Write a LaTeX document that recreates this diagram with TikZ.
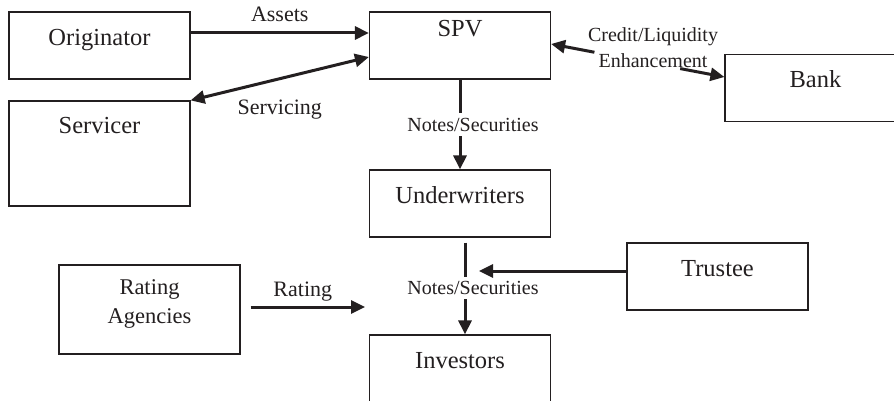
\documentclass[tikz,border=0pt]{standalone}
\usepackage{fontspec}
\setmainfont{Liberation Serif}
\usepackage{xcolor}
\usetikzlibrary{arrows.meta,positioning,calc}
\definecolor{ink}{HTML}{231F20}

\begin{document}
\begin{tikzpicture}[x=1pt, y=-1pt,
    party/.style={draw=ink, line width=1.2pt, minimum width=181pt, minimum height=67pt, inner sep=3pt, text=ink, font=\fontsize{24.5}{29}\selectfont, text height=17pt, text depth=#1},
    party/.default=17pt,
    flow/.style={draw=ink, line width=3pt, >={Triangle[length=14pt,width=13pt]}},
    tag/.style={text=ink, font=\fontsize{22}{26}\selectfont, inner sep=0pt},
    small/.style={text=ink, font=\fontsize{20}{25.5}\selectfont, inner sep=0pt}
]
    \useasboundingbox (0,0) rectangle (894,401);
    \clip (0,0) rectangle (894,401);

    \node[party] (orig) at (99.5,45.5) {Originator};
    \node[party=56pt, minimum height=105pt] (serv) at (99.5,153.5) {Servicer};
    \node[party=34pt] (spv) at (460,45.5) {SPV};
    \node[party] (bank) at (815.5,88) {Bank};
    \node[party] (uw) at (460,203.5) {Underwriters};
    \node[party, text height={}, text depth=15pt, minimum height=89pt, align=center, font=\fontsize{22.5}{29}\selectfont] (rate) at (149.5,309.5) {Rating\\Agencies};
    \node[party] (trus) at (717.5,276.5) {Trustee};
    \node[party] (inv) at (460,368.5) {Investors};

    % free ends of the two side arrows
    \coordinate (trtip) at (479,271);
    \coordinate (rttip) at (365,307);

    % top row
    \draw[flow, ->] ([yshift=12.5pt]orig.east) -- node[tag, above=10pt] {Assets} ([yshift=12.5pt]spv.west);
    \draw[flow, <->] (serv.north east) -- node[tag, below=20pt] {Servicing} ([yshift=-11.5pt]spv.west);

    % credit enhancement, broken by its label
    \coordinate (sb1) at ([yshift=1.5pt]spv.east);
    \coordinate (sb2) at ([yshift=11pt]bank.west);
    \node[small, align=center] (enh) at (653,47.5) {Credit/Liquidity\\Enhancement};
    \draw[flow, ->] ($(sb1)!0.25!(sb2)$) -- (sb1);
    \draw[flow, ->] ($(sb1)!0.745!(sb2)$) -- (sb2);

    % issue of notes
    \draw[flow, ->] (spv.south) -- node[small, fill=white, inner ysep=4.5pt, xshift=13pt] {Notes/Securities} (uw.north);
    \draw[flow, ->, shorten <=5pt] ([xshift=5pt]uw.south) -- node[small, fill=white, inner ysep=4.5pt, xshift=8pt, yshift=-2pt] {Notes/Securities} ([xshift=5pt]inv.north);

    % side inputs
    \draw[flow, ->] ([yshift=5.5pt]trus.west) -- (trtip);
    \draw[flow, ->] ([xshift=10pt, yshift=2.5pt]rate.east) -- node[tag, above=4pt, xshift=-5pt] {Rating} (rttip);
\end{tikzpicture}
\end{document}
